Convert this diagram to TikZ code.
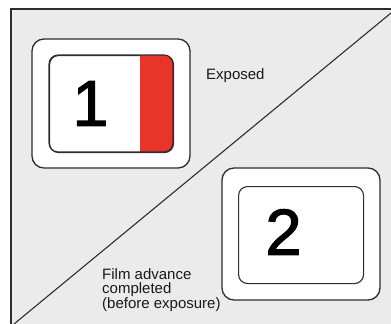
\documentclass[tikz,border=0pt]{standalone}
\usepackage{fontspec}
\setmainfont{Liberation Sans}
\newfontface\digitfont[FakeBold=1.8]{Liberation Sans}
\definecolor{panelgray}{HTML}{EBEBEB}
\definecolor{inkgray}{HTML}{2E2E2E}
\definecolor{filmred}{HTML}{E8352A}
\begin{document}
\begin{tikzpicture}[x=1pt,y=-1pt,
  frame/.style={draw=inkgray,line width=1.3pt,fill=white,rounded corners=12pt},
  window/.style={draw=inkgray,line width=1.1pt,fill=white,rounded corners=9pt},
  label/.style={inner sep=0pt,font=\fontsize{15}{14.6}\selectfont,text=black!90,align=left},
  digit/.style={inner sep=0pt,font=\digitfont\fontsize{65}{65}\selectfont}]
\useasboundingbox (0,0) rectangle (391,324);
% panel
\fill[panelgray] (11,9) rectangle (391,324);
\draw[inkgray,line width=1.2pt] (11,324) -- (11,9) -- (391,9);
% diagonal
\coordinate (dA) at (14,324);
\coordinate (dB) at (391,13);
\draw[inkgray,line width=1.1pt] (dA) -- (dB);
% frame 1
\draw[frame] (32,39) rectangle (190,168);
\node[window,minimum width=124pt,minimum height=97pt,anchor=north west] (w1) at (49,55) {};
\begin{scope}
\clip[rounded corners=9pt] (49,55) rectangle (173,152);
\fill[filmred] (140,50) rectangle (180,160);
\end{scope}
\draw[inkgray,line width=1.1pt,rounded corners=9pt] (49,55) rectangle (173,152);
\node[digit] (n1) at (90.5,103.5) {1};
% frame 2
\draw[frame] (222,168) rectangle (380,300);
\node[window,minimum width=125pt,minimum height=97pt,anchor=north west] (w2) at (238,186) {};
\node[digit] (n2) at (283.5,232) {2};
% labels
\node[label,anchor=base west] (exposed) at (206,79) {Exposed};
\node[label,anchor=north west] (film) at (102,268) {Film advance\\completed\\(before exposure)};
\end{tikzpicture}
\end{document}
